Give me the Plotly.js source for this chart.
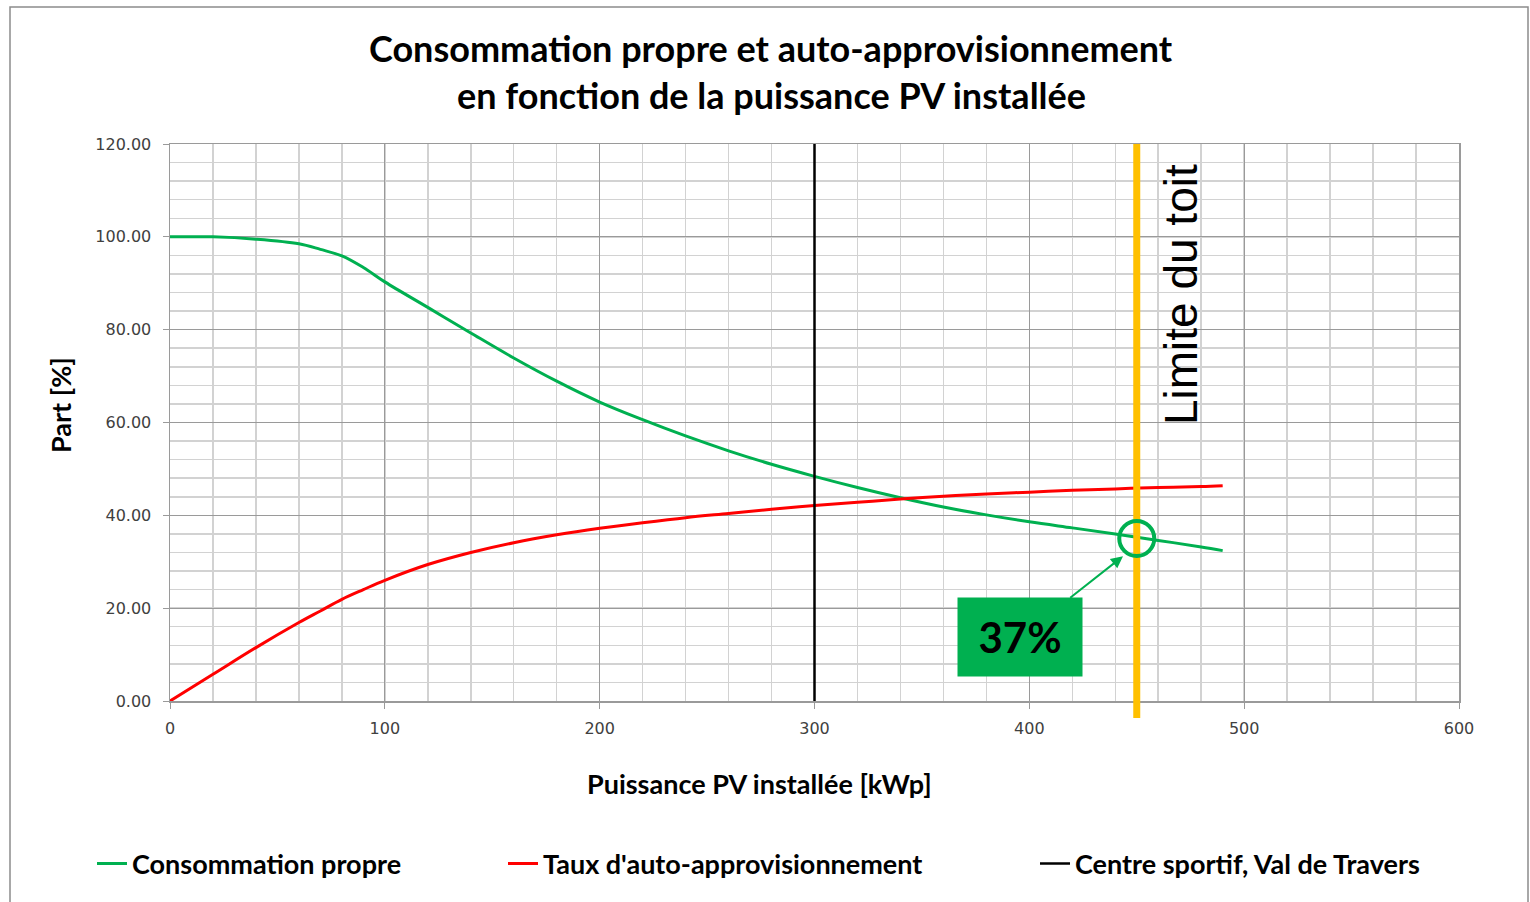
<!DOCTYPE html>
<html><head><meta charset="utf-8">
<script src="https://cdn.plot.ly/plotly-3.0.1.min.js"></script>
<style>html,body{margin:0;padding:0;background:#fff;} #chart{width:1530px;height:902px;}</style>
</head><body><div id="chart"></div>
<script>
// ---- data ----
const pvPower = [0,20,40,60,70,80,90,100,120,140,160,180,200,220,240,260,280,300,320,340,360,380,400,420,440,460,480,490];
const selfConsumption = [100,100,99.5,98.5,97.3,95.9,93.4,90.3,84.8,79.3,73.9,68.9,64.4,60.6,57.1,53.9,51.0,48.4,46.0,43.8,41.8,40.1,38.6,37.3,36.0,34.6,33.2,32.4];
const selfSufficiency = [0,5.75,11.5,16.9,19.4,21.9,24.0,26.0,29.4,32.0,34.1,35.8,37.2,38.4,39.5,40.4,41.3,42.1,42.8,43.5,44.1,44.6,45.0,45.4,45.7,46.0,46.2,46.4];
const siteX = [300,300];
const siteY = [0,120];
const roofLimit = 450;
const roofValue = 35;
const calloutTip = [443.6, 31.2];
const calloutLabel = '37%';
const roofLabel = 'Limite du toit';
const titleLines = ['Consommation propre et auto-approvisionnement', 'en fonction de la puissance PV installée'];
const xTitle = 'Puissance PV installée [kWp]';
const yTitle = 'Part [%]';
const seriesNames = ['Consommation propre', "Taux d'auto-approvisionnement", 'Centre sportif, Val de Travers'];
const xTicks = [0,100,200,300,400,500,600];
const yTicks = [0,20,40,60,80,100,120];

const boldFont = 'Lato, "Open Sans", sans-serif';
const legendFont = {family: boldFont, size: 27, color: '#000', weight: 'bold'};

const traces = [
  {x: pvPower, y: selfConsumption, name: seriesNames[0], mode: 'lines', type: 'scatter',
   line: {color: '#00B050', width: 3, shape: 'spline', smoothing: 1}, legend: 'legend'},
  {x: pvPower, y: selfSufficiency, name: seriesNames[1], mode: 'lines', type: 'scatter',
   line: {color: '#FF0000', width: 3, shape: 'spline', smoothing: 1}, legend: 'legend2'},
  {x: siteX, y: siteY, name: seriesNames[2], mode: 'lines', type: 'scatter',
   line: {color: '#000000', width: 2.5}, legend: 'legend3'}
];

const gridMajor = '#9a9a9a';
const gridMinor = '#d2d2d2';
const tickFont = {family: '"DejaVu Sans", sans-serif', size: 16, color: '#404040'};

function legendAt(px) {
  return {x: (px - 170) / 1289, xanchor: 'left', y: (701 - 864) / 557, yanchor: 'middle',
          orientation: 'h', font: legendFont, bgcolor: 'rgba(0,0,0,0)', borderwidth: 0};
}
function px2x(px) { return (px - 170) / 1289; }
function py2y(py) { return (701 - py) / 557; }

const layout = {
  width: 1530, height: 902,
  margin: {l: 170, r: 71, t: 144, b: 201},
  paper_bgcolor: '#fff', plot_bgcolor: '#fff',
  showlegend: true,
  legend: legendAt(92),
  legend2: legendAt(503),
  legend3: legendAt(1035),
  xaxis: {range: [0, 600], tickvals: xTicks, showgrid: true, gridcolor: gridMajor, gridwidth: 1.2,
          minor: {dtick: 20, tick0: 0, showgrid: true, gridcolor: gridMinor, gridwidth: 1.5},
          showline: true, linecolor: gridMajor, linewidth: 1.5, mirror: true,
          ticks: 'outside', ticklen: 6, tickcolor: gridMajor, tickfont: tickFont, zeroline: false,
          ticklabelstandoff: 6},
  yaxis: {range: [0, 120], tickvals: yTicks, tickformat: '.2f', showgrid: true, gridcolor: gridMajor, gridwidth: 1.2,
          minor: {dtick: 4, tick0: 0, showgrid: true, gridcolor: gridMinor, gridwidth: 1.5},
          showline: true, linecolor: gridMajor, linewidth: 1.5, mirror: true,
          ticks: 'outside', ticklen: 6, tickcolor: gridMajor, tickfont: tickFont, zeroline: false,
          ticklabelstandoff: 8},
  shapes: [
    {type: 'rect', xref: 'paper', yref: 'paper', x0: px2x(10), x1: px2x(1528), y0: -0.37, y1: py2y(7),
     line: {color: '#8c8c8c', width: 1.5}, layer: 'below'},
    {type: 'line', xref: 'x', yref: 'paper', x0: roofLimit, x1: roofLimit, y0: py2y(718), y1: 1,
     line: {color: '#FFC000', width: 7}},
    {type: 'circle', xref: 'x', yref: 'y', xsizemode: 'pixel', ysizemode: 'pixel',
     xanchor: roofLimit, yanchor: roofValue, x0: -17.5, x1: 17.5, y0: -17.5, y1: 17.5,
     line: {color: '#00B050', width: 4}}
  ],
  annotations: [
    {text: titleLines[0], xref: 'paper', yref: 'paper', x: px2x(771), y: py2y(48), xanchor: 'center', yanchor: 'middle',
     showarrow: false, font: {family: boldFont, size: 36, color: '#000', weight: 'bold'}},
    {text: titleLines[1], xref: 'paper', yref: 'paper', x: px2x(771), y: py2y(95), xanchor: 'center', yanchor: 'middle',
     showarrow: false, font: {family: boldFont, size: 36, color: '#000', weight: 'bold'}},
    {text: roofLabel, x: 470.7, y: 87.5, xref: 'x', yref: 'y', xanchor: 'center', yanchor: 'middle',
     showarrow: false, textangle: -90,
     font: {family: '"Liberation Sans", Arial, sans-serif', size: 46, color: '#000'}},
    {text: calloutLabel, x: calloutTip[0], y: calloutTip[1], xref: 'x', yref: 'y', showarrow: true,
     ax: -103, ay: 81, arrowcolor: '#00B050', arrowwidth: 2, arrowhead: 2, arrowsize: 1.2,
     bgcolor: '#00B050', width: 124, height: 78, borderpad: 0,
     font: {family: boldFont, size: 42, color: '#000', weight: 'bold'}},
    {text: xTitle, xref: 'paper', yref: 'paper', x: px2x(759), y: py2y(783), xanchor: 'center', yanchor: 'middle',
     showarrow: false, font: {family: boldFont, size: 27, color: '#000', weight: 'bold'}},
    {text: yTitle, xref: 'paper', yref: 'paper', x: px2x(60), y: py2y(405), xanchor: 'center', yanchor: 'middle',
     textangle: -90, showarrow: false, font: {family: boldFont, size: 27, color: '#000', weight: 'bold'}}
  ]
};

Plotly.newPlot('chart', traces, layout, {staticPlot: true, displayModeBar: false});
</script></body></html>
